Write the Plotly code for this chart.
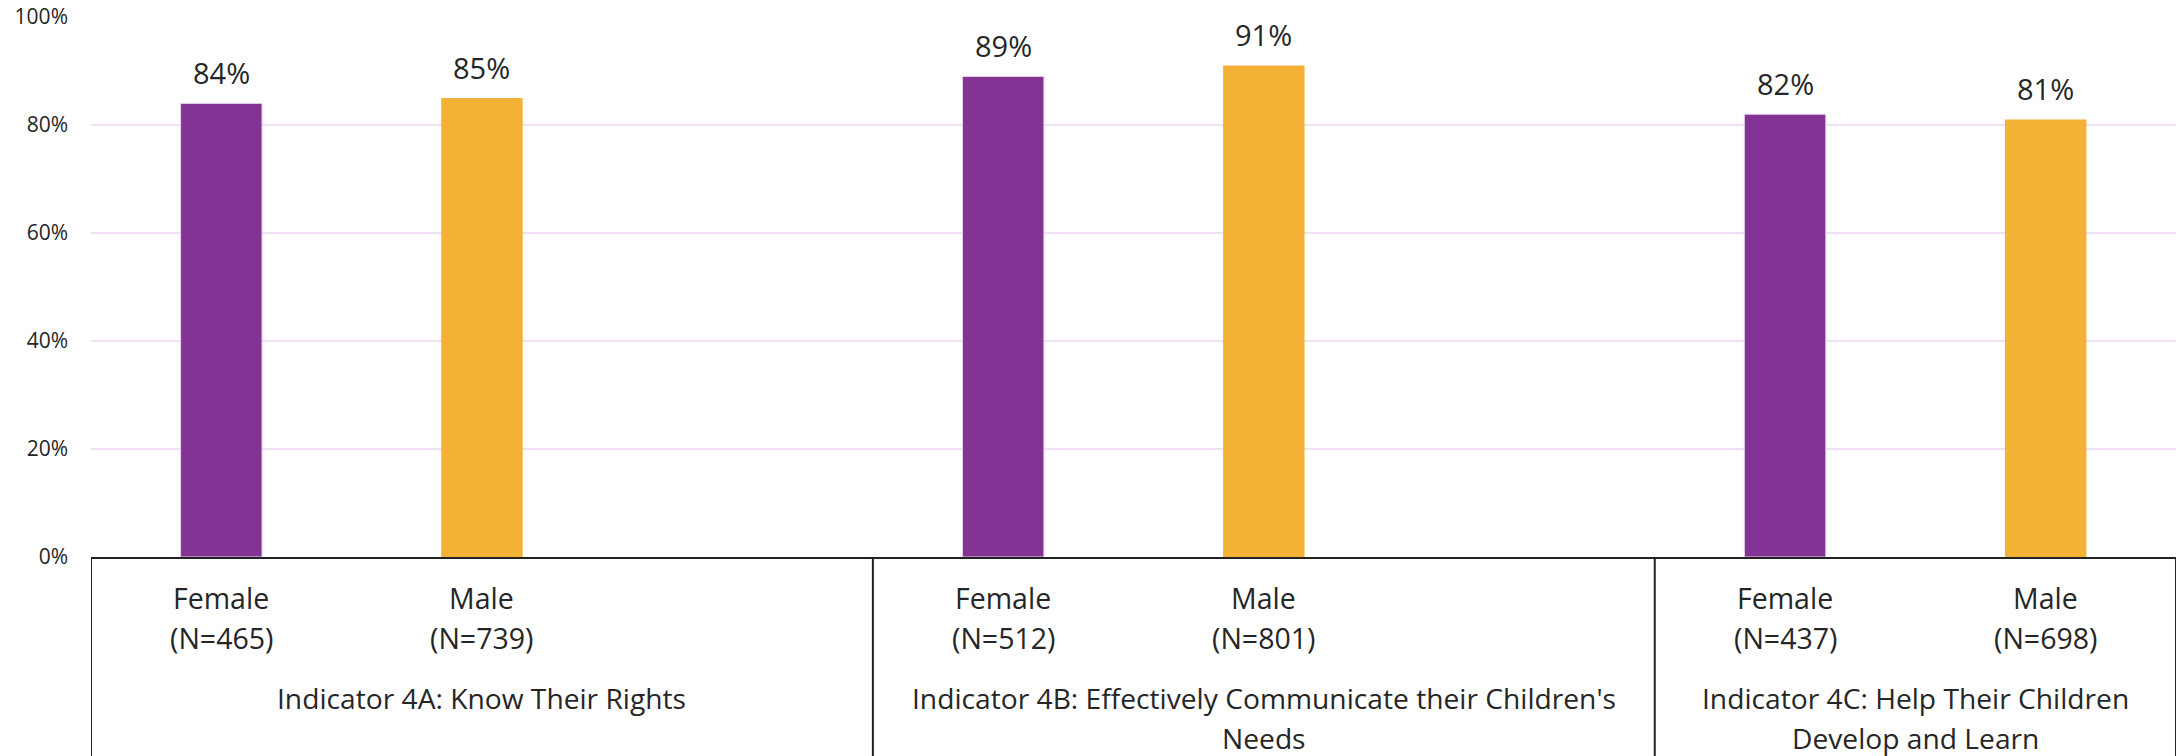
import plotly.graph_objects as go

# ---- data ----
groups = ["Indicator 4A: Know Their Rights",
          "Indicator 4B: Effectively Communicate their Children's<br>Needs",
          "Indicator 4C: Help Their Children<br>Develop and Learn"]
female_n = ["(N=465)", "(N=512)", "(N=437)"]
male_n = ["(N=739)", "(N=801)", "(N=698)"]
female_vals = [84, 89, 82]
male_vals = [85, 91, 81]
y_ticks = [0, 20, 40, 60, 80, 100]

# ---- layout constants (leaf slots on a numeric axis) ----
group_starts = [0, 6, 12]
group_ends = [6, 12, 16]
female_off = 1
male_off = 3
bar_w = 0.625
PURPLE = "#833394"
GOLD = "#F3B236"
TXT = "#262626"
FONT = "Open Sans"

W, H = 2178, 756
ML, MR, MT, MB = 91, 2, 17, 199
plot_h = H - MT - MB


def py(pix):
    """pixel y (from top) -> paper y"""
    return (H - MB - pix) / plot_h


xf = [s + female_off for s in group_starts]
xm = [s + male_off for s in group_starts]

fig = go.Figure()
fig.add_trace(go.Bar(x=xf, y=female_vals, width=bar_w, name="Female",
                     marker=dict(color=PURPLE, line=dict(color="#E6D2EC", width=1))))
fig.add_trace(go.Bar(x=xm, y=male_vals, width=bar_w, name="Male",
                     marker=dict(color=GOLD, line=dict(color=GOLD, width=0))))

ann = []
# value labels
for xs, vs in ((xf, female_vals), (xm, male_vals)):
    for x, v in zip(xs, vs):
        ann.append(dict(x=x, y=v, xref="x", yref="y", text=f"{v}%", showarrow=False,
                        yanchor="middle", yshift=31,
                        font=dict(family=FONT, size=29, color=TXT)))
# sub-category labels
for i in range(3):
    for x, lines in ((xf[i], ["Female", female_n[i]]), (xm[i], ["Male", male_n[i]])):
        for j, t in enumerate(lines):
            ann.append(dict(x=x, y=py(598 + 40 * j), xref="x", yref="paper", text=t,
                            showarrow=False, yanchor="middle",
                            font=dict(family=FONT, size=28.5, color=TXT)))
    gc = (group_starts[i] + group_ends[i]) / 2
    for j, t in enumerate(groups[i].split("<br>")):
        ann.append(dict(x=gc, y=py(698 + 40 * j), xref="x", yref="paper", text=t,
                        showarrow=False, yanchor="middle",
                        font=dict(family=FONT, size=28.2, color=TXT)))

shapes = []
for xb in [group_starts[0]] + group_ends:
    shapes.append(dict(type="line", xref="x", yref="paper", x0=xb, x1=xb,
                       y0=0, y1=py(H + 5), line=dict(color="#222222", width=2)))

fig.update_layout(
    width=W, height=H,
    margin=dict(l=ML, r=MR, t=MT, b=MB),
    paper_bgcolor="white", plot_bgcolor="white",
    showlegend=False,
    annotations=ann, shapes=shapes,
    font=dict(family=FONT, color=TXT),
    xaxis=dict(range=[group_starts[0], group_ends[-1]], showgrid=False, zeroline=False,
               showticklabels=False, ticks="", showline=True, linecolor="#222222",
               linewidth=2, fixedrange=True),
    yaxis=dict(range=[0, 100], tickvals=y_ticks, ticktext=[f"{t}%" for t in y_ticks],
               showgrid=True, gridcolor="#F0E0F4", gridwidth=2, zeroline=False,
               showline=False, ticks="", ticklabelstandoff=22,
               tickfont=dict(family=FONT, size=21, color=TXT), fixedrange=True),
)

fig.write_html("out.html")
